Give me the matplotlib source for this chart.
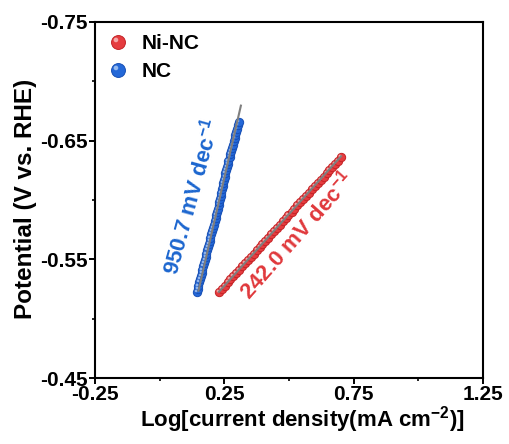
import numpy as np
import matplotlib
matplotlib.use("Agg")
import matplotlib.pyplot as plt
from matplotlib.path import Path
from matplotlib.lines import Line2D
from matplotlib.legend_handler import HandlerTuple

plt.rcParams['font.family'] = ['Liberation Sans', 'DejaVu Sans']
plt.rcParams['font.weight'] = 'bold'
plt.rcParams['axes.unicode_minus'] = False
plt.rcParams['mathtext.fontset'] = 'custom'
plt.rcParams['mathtext.rm'] = 'Liberation Sans:bold'
plt.rcParams['mathtext.it'] = 'Liberation Sans:bold'
plt.rcParams['mathtext.bf'] = 'Liberation Sans:bold'
plt.rcParams['mathtext.default'] = 'rm'

# ---------------- data ----------------
ninc_potential = [-0.5225, -0.5252, -0.5279, -0.5306, -0.5333, -0.5360, -0.5387, -0.5414,
                  -0.5441, -0.5468, -0.5495, -0.5522, -0.5549, -0.5576, -0.5603, -0.5630,
                  -0.5657, -0.5684, -0.5711, -0.5738, -0.5765, -0.5792, -0.5819, -0.5846,
                  -0.5873, -0.5900, -0.5927, -0.5954, -0.5981, -0.6008, -0.6035, -0.6062,
                  -0.6089, -0.6116, -0.6143, -0.6170, -0.6197, -0.6224, -0.6251, -0.6278,
                  -0.6305, -0.6332, -0.6359]
ninc_logj = [0.229, 0.241, 0.252, 0.263, 0.273, 0.284, 0.296, 0.307, 0.318, 0.330,
             0.341, 0.352, 0.363, 0.375, 0.386, 0.397, 0.409, 0.420, 0.431, 0.442,
             0.454, 0.465, 0.476, 0.487, 0.498, 0.510, 0.521, 0.532, 0.543, 0.555,
             0.566, 0.577, 0.589, 0.600, 0.611, 0.622, 0.634, 0.645, 0.656, 0.667,
             0.679, 0.690, 0.701]

nc_potential = [-0.5225, -0.5252, -0.5279, -0.5306, -0.5333, -0.5360, -0.5387, -0.5414,
                -0.5441, -0.5468, -0.5495, -0.5522, -0.5549, -0.5576, -0.5603, -0.5630,
                -0.5657, -0.5684, -0.5711, -0.5738, -0.5765, -0.5792, -0.5819, -0.5846,
                -0.5873, -0.5900, -0.5927, -0.5954, -0.5981, -0.6008, -0.6035, -0.6062,
                -0.6089, -0.6116, -0.6143, -0.6170, -0.6197, -0.6224, -0.6251, -0.6278,
                -0.6305, -0.6332, -0.6359, -0.6386, -0.6413, -0.6440, -0.6467, -0.6494,
                -0.6521, -0.6548, -0.6575, -0.6602, -0.6629, -0.6656]
nc_logj = [0.144, 0.147, 0.150, 0.153, 0.156, 0.159, 0.162, 0.165, 0.168, 0.171,
           0.174, 0.178, 0.181, 0.184, 0.187, 0.190, 0.193, 0.196, 0.199, 0.202,
           0.205, 0.209, 0.213, 0.216, 0.219, 0.222, 0.225, 0.228, 0.231, 0.233,
           0.236, 0.238, 0.241, 0.243, 0.246, 0.248, 0.251, 0.254, 0.257, 0.260,
           0.263, 0.266, 0.270, 0.273, 0.277, 0.280, 0.284, 0.287, 0.290, 0.293,
           0.296, 0.299, 0.302, 0.305]

# Tafel fits: (intercept V, slope V/dec, logj range)
ninc_fit = (-0.4672, -0.2420, 0.229, 0.701)
nc_fit = (-0.3810, -0.9507, 0.150, 0.314)

series_labels = ['Ni-NC', 'NC']
slope_labels = ['242.0 mV dec$^{-1}$', '950.7 mV dec$^{-1}$']

xticks = [-0.25, 0.25, 0.75, 1.25]
yticks = [-0.75, -0.65, -0.55, -0.45]

red = '#e53c3f'
red_edge = '#c42326'
red_hi = '#f9c4c4'
blue = '#2468d8'
blue_edge = '#174fb5'
blue_hi = '#b3cff5'

# highlight marker path (small circle offset towards upper-left)
circ = Path.circle(center=(-0.22, 0.22), radius=0.20)
hi_marker = Path(np.vstack([circ.vertices, [[0.6, -0.6]]]),
                 np.concatenate([circ.codes, [Path.MOVETO]]))

fig = plt.figure(figsize=(5.09, 4.44), dpi=100)
ax = fig.add_axes([0.1866, 0.1486, 0.949 - 0.1866, 0.9505 - 0.1486])

def draw_series(x, y, fc, ec, hc):
    ax.plot(x, y, linestyle='none', marker='o', markersize=6.0,
            markerfacecolor=fc, markeredgecolor=ec, markeredgewidth=0.7, zorder=3)
    ax.plot(x, y, linestyle='none', marker=hi_marker, markersize=6.0,
            markerfacecolor=hc, markeredgecolor='none', alpha=0.75, zorder=3)

draw_series(ninc_logj, ninc_potential, red, red_edge, red_hi)
draw_series(nc_logj, nc_potential, blue, blue_edge, blue_hi)

for (a, b, x0, x1) in [ninc_fit, nc_fit]:
    xs = np.array([x0, x1])
    ax.plot(xs, a + b * xs, color='#7f7f7f', linewidth=1.5, zorder=4)

ax.text(0.531, -0.5705, slope_labels[0], color='#e0393c', fontsize=16,
        fontweight='bold', rotation=48.5, rotation_mode='anchor',
        ha='center', va='center')
ax.text(0.123, -0.6025, slope_labels[1], color='#1c66cf', fontsize=16,
        fontweight='bold', rotation=74.5, rotation_mode='anchor',
        ha='center', va='center')

ax.set_xlim(-0.25, 1.25)
ax.set_ylim(-0.45, -0.75)
ax.set_xticks(xticks)
ax.set_yticks(yticks)
ax.set_xticklabels([f'{v:.2f}' for v in xticks])
ax.set_yticklabels([f'{v:.2f}' for v in yticks])
ax.set_xticks([0.0, 0.5, 1.0], minor=True)
ax.set_yticks([-0.70, -0.60, -0.50], minor=True)
ax.tick_params(which='major', direction='out', length=4, width=1.4,
               labelsize=15, pad=1)
ax.tick_params(which='minor', direction='out', length=2, width=1.2)
for lab in ax.get_xticklabels() + ax.get_yticklabels():
    lab.set_fontweight('bold')
for sp in ax.spines.values():
    sp.set_linewidth(1.5)

ax.set_xlabel('Log[current density(mA cm$^{-2}$)]', fontsize=16,
              fontweight='bold')
ax.set_ylabel('Potential (V vs. RHE)', fontsize=17.5, fontweight='bold')
ax.xaxis.set_label_coords(0.535, -0.072)
ax.yaxis.set_label_coords(-0.150, 0.503)

handles = []
for fc, ec, hc in [(red, red_edge, red_hi), (blue, blue_edge, blue_hi)]:
    h1 = Line2D([], [], linestyle='none', marker='o', markersize=10,
                markerfacecolor=fc, markeredgecolor=ec, markeredgewidth=0.7)
    h2 = Line2D([], [], linestyle='none', marker=hi_marker, markersize=10,
                markerfacecolor=hc, markeredgecolor='none', alpha=0.8)
    handles.append((h1, h2))
leg = ax.legend(handles, series_labels, loc='upper left', frameon=False,
                handler_map={tuple: HandlerTuple(ndivide=1, pad=0)},
                prop={'size': 15, 'weight': 'bold'}, handlelength=1.0,
                handletextpad=0.65, labelspacing=0.4, borderaxespad=0.2,
                bbox_to_anchor=(0.0, 1.0))

fig.savefig('out.png', dpi=100)
